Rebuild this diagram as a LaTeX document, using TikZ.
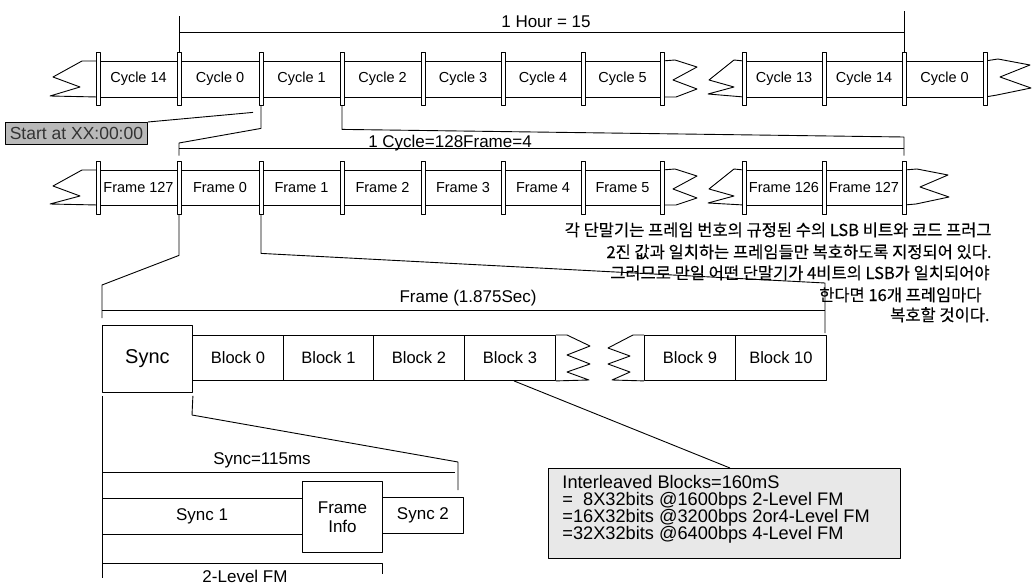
\documentclass[tikz,border=0pt]{standalone}
\usepackage{fontspec}
\setmainfont{Liberation Sans}
\newfontfamily\kr[FakeBold=0.4]{Noto Sans CJK KR}
\usetikzlibrary{calc}
\begin{document}
\begin{tikzpicture}[x=1pt,y=-1pt, line width=0.9pt, line join=round,
  bar/.style={draw, fill=white, minimum width=4pt, minimum height=53pt, inner sep=0pt, line width=0.8pt},
  lbl/.style={font=\fontsize{14.5}{16}\selectfont, inner sep=0pt},
  big/.style={font=\fontsize{17}{19}\selectfont, inner sep=0pt},
  kor/.style={font=\kr\fontsize{16.5}{20}\selectfont, inner sep=0pt, anchor=base east},
  ibl/.style={font=\fontsize{18.2}{20}\selectfont, inner sep=0pt, anchor=base west},
  blk/.style={draw, fill=white, minimum height=45pt, inner sep=0pt, anchor=north west, font=\fontsize{16.5}{18}\selectfont},
 ]
\useasboundingbox (0,0) rectangle (1034,584);

% ---------- cycle row ----------
\draw (98,61) -- (662,61) (98,97) -- (662,97) (744,61) -- (985,61) (744,97) -- (985,97);
\draw (98,61) -- (82,61) -- (53,77) -- (80,87) -- (50,96) -- (98,97);
\draw (662,61) -- (675,60) -- (697,67) -- (673,80) -- (697,89) -- (676,97) -- (662,97);
\draw (744,61) -- (734,60) -- (709,80) -- (734,87) -- (708,94) -- (744,97);
\draw (985,61) -- (998,59) -- (1030,65) -- (1000,77) -- (1031,88) -- (997,95) -- (985,97);
\foreach \x [count=\i] in {98,179,261,342,423,503,583,662,744,824,904,985}
  \node[bar] (cb\i) at (\x,78.5) {};
\foreach \x/\t [count=\i] in {138.5/Cycle 14,220/Cycle 0,301.5/Cycle 1,382.5/Cycle 2,463/Cycle 3,543/Cycle 4,622.5/Cycle 5,784/Cycle 13,864/Cycle 14,944.5/Cycle 0}
  \node[lbl] (cl\i) at (\x,79) {\t};

% hour dimension
\draw (cb2.north) -- (179,16);
\draw (cb11.north) -- (904,11);
\draw (179,32) -- (904,32);
\node[big, anchor=base] (hour) at (546,27) {1 Hour = 15};

% start label
\node[draw, fill=gray!55, minimum width=142pt, minimum height=22pt, anchor=north west, inner sep=0pt,
      font=\fontsize{17.5}{19}\selectfont, text=black!80] (start) at (5,122) {Start at XX:00:00};
\coordinate (startpt) at ($(cb3.south)+(-8,7)$);
\draw (start.north east) -- (startpt);

% ---------- frame row ----------
\draw (98,170) -- (662,170) (98,205) -- (662,205) (744,170) -- (904,170) (744,205) -- (904,205);
\draw (98,170) -- (82,170) -- (53,186) -- (80,196) -- (50,204) -- (98,205);
\draw (662,170) -- (675,169) -- (697,176) -- (673,189) -- (697,198) -- (676,205) -- (662,205);
\draw (744,170) -- (734,169) -- (709,189) -- (734,196) -- (708,203) -- (744,205);
\draw (904,170) -- (917,169) -- (948,175) -- (920,187) -- (949,197) -- (916,204) -- (904,205);
\foreach \x [count=\i] in {98,179,261,342,423,503,583,662,744,824,904}
  \node[bar] (fb\i) at (\x,187.5) {};
\foreach \x/\t [count=\i] in {138.5/Frame 127,220/Frame 0,301.5/Frame 1,382.5/Frame 2,463/Frame 3,543/Frame 4,622.5/Frame 5,784/Frame 126,864/Frame 127}
  \node[lbl] (fl\i) at (\x,188) {\t};

% expansion of cycle into frames
\draw (cb3.south) -- ++(0,23) -- (179,143) -- ($(fb2.north)+(0,-5)$);
\draw (cb4.south) -- ++(0,24) -- (904,137) -- ($(fb11.north)+(0,-5)$);
\draw (179,148) -- (904,148);
\node[big, anchor=base] (cyc) at (450,147) {1 Cycle=128Frame=4};

% Korean note
\node[kor] (k1) at (992,236) {각 단말기는 프레임 번호의 규정된 수의 LSB 비트와 코드 프러그};
\node[kor] (k2) at (992,258) {2진 값과 일치하는 프레임들만 복호하도록 지정되어 있다.};
\node[kor] (k3) at (990,279) {그러므로 만일 어떤 단말기가 4비트의 LSB가 일치되어야};
\node[kor] (k4) at (982,301) {한다면 16개 프레임마다};
\node[kor] (k5) at (990,321) {복호할 것이다.};

% ---------- frame detail ----------
\draw (fb2.south) -- ++(0,41) -- (102,285) -- (102,318);
\draw (fb3.south) -- ++(0,39) -- (825,283) -- (825,333);
\draw (102,310) -- (825,310);
\node[big, anchor=base] (frm) at (468,302) {Frame (1.875Sec)};

\node[draw, fill=white, minimum width=90pt, minimum height=67pt, anchor=north west, inner sep=0pt,
      font=\fontsize{20}{22}\selectfont] (sync) at (102,325) {Sync};
\node[blk, minimum width=91pt] (b0) at (192,335) {Block 0};
\node[blk, minimum width=90pt] (b1) at (283,335) {Block 1};
\node[blk, minimum width=91pt] (b2) at (373,335) {Block 2};
\node[blk, minimum width=91pt] (b3) at (464,335) {Block 3};
\node[blk, minimum width=91pt] (b9) at (644,335) {Block 9};
\node[blk, minimum width=91pt] (b10) at (735,335) {Block 10};
\draw (b3.north east) -- (567,335) -- (590,346) -- (567,355) -- (590,364) -- (567,372) -- (589,380) -- (b3.south east);
\draw (b9.north west) -- (633,335) -- (608,348) -- (630,356) -- (608,364) -- (630,372) -- (612,380) -- (b9.south west);

% interleaved blocks
\node[draw, fill=gray!18, minimum width=352pt, minimum height=90pt, anchor=north west, inner sep=0pt] (ib) at (548,468) {};
\node[ibl] (i1) at (562,488) {Interleaved Blocks=160mS};
\node[ibl] (i2) at (562,505) {=\hphantom{1}8X32bits @1600bps 2-Level FM};
\node[ibl] (i3) at (562,522) {=16X32bits @3200bps 2or4-Level FM};
\node[ibl] (i4) at (562,539) {=32X32bits @6400bps 4-Level FM};
\draw ($(b3.south)+(4,0)$) -- ($(ib.north west)+(182,0)$);

% ---------- sync detail ----------
\draw ($(sync.south west)+(0,3)$) -- (102,578);
\draw ($(sync.south east)+(0,3)$) -- (192,415) -- (458,462) -- (458,490);
\draw (102,472) -- (455,472);
\node[big, anchor=base] (syncms) at (262,464) {Sync=115ms};
\draw (102,498) -- (302,498) (102,534) -- (302,534);
\node[big] (s1) at (202,516) {Sync 1};
\node[draw, fill=white, minimum width=80pt, minimum height=71pt, anchor=north west, inner sep=0pt, align=center,
      font=\fontsize{17}{19}\selectfont] (fi) at (302,481) {Frame\\Info};
\node[draw, minimum width=81pt, minimum height=36pt, anchor=north west, big] (s2) at (382,497) {Sync 2};
\draw (102,563) -- (382,563) -- (382,574);
\node[big, anchor=base] (fm) at (245,582) {2-Level FM};
\end{tikzpicture}
\end{document}
